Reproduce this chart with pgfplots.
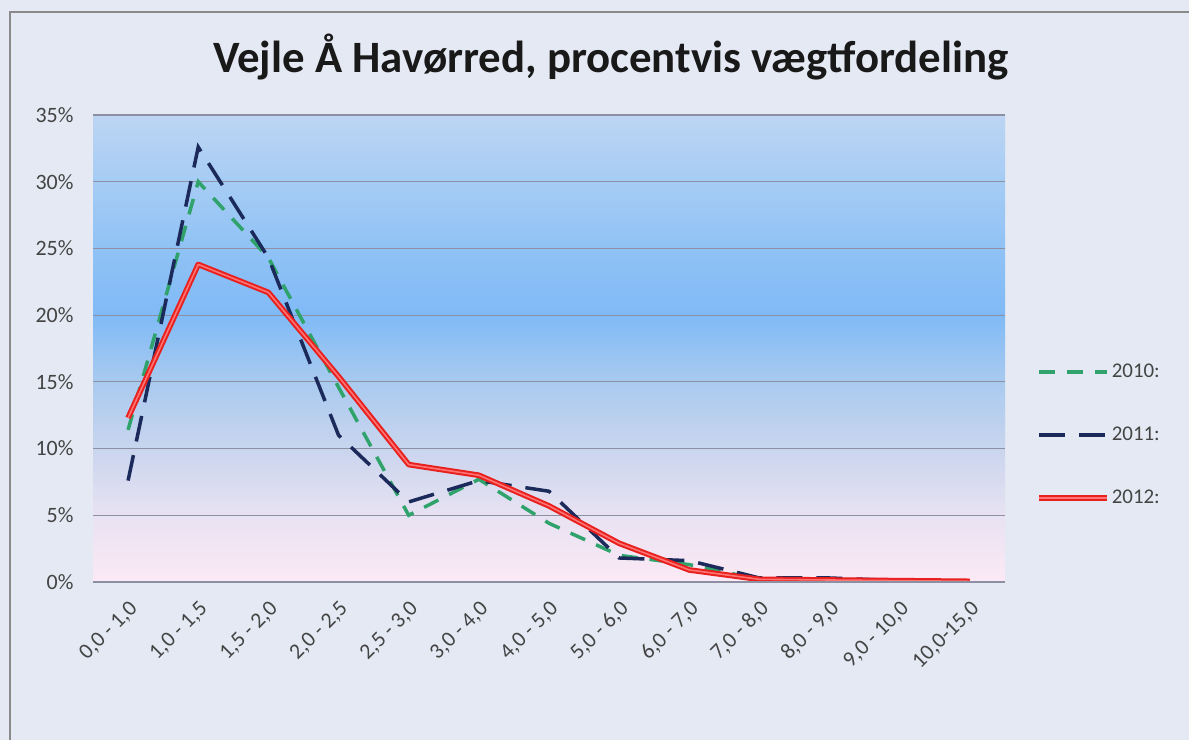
\documentclass[border=0pt]{standalone}
\usepackage{pgfplots}
\pgfplotsset{compat=1.18}
\usepackage{fontspec}
\setmainfont{Carlito}
\definecolor{bgc}{HTML}{E4E9F3}
\definecolor{framec}{HTML}{8A8A8A}
\definecolor{c35}{HTML}{BCD5F3}
\definecolor{c30}{HTML}{A6CCF4}
\definecolor{c25}{HTML}{90C2F5}
\definecolor{c20}{HTML}{80BAF6}
\definecolor{c15}{HTML}{A9CAEF}
\definecolor{c10}{HTML}{C9D5EE}
\definecolor{c5}{HTML}{E8E2F2}
\definecolor{c0}{HTML}{FCE9F5}
\definecolor{gridc}{HTML}{8C90A2}
\definecolor{textc}{HTML}{444444}
\definecolor{g2010}{HTML}{2FA36B}
\definecolor{n2011}{HTML}{1B2A5A}
\definecolor{r2012}{HTML}{E8201E}
\pgfdeclareverticalshading{plotbg}{100bp}{color(0bp)=(c0); color(25bp)=(c0); color(32.1bp)=(c5); color(39.3bp)=(c10); color(46.4bp)=(c15); color(53.6bp)=(c20); color(60.7bp)=(c25); color(67.9bp)=(c30); color(75bp)=(c35); color(100bp)=(c35)}
\pgfplotstableread{
x y2010 y2011 y2012
0 11.4 7.6 12.3
1 30.0 32.6 23.8
2 24.3 24.3 21.7
3 14.6 11.0 15.4
4 5.0 6.0 8.8
5 7.7 7.6 8.0
6 4.4 6.8 5.7
7 2.0 1.8 2.9
8 1.3 1.6 0.9
9 0.2 0.3 0.2
10 0.2 0.3 0.15
11 0.1 0.1 0.1
12 0.05 0.05 0.05
}\datatable
\begin{document}
\begin{tikzpicture}[x=1bp,y=1bp]
\useasboundingbox (0,0) rectangle (1189,740);
\fill[bgc] (0,0) rectangle (1189,740);
\draw[framec, line width=1.5bp] (10,-2) -- (10,728) -- (1195,728);
\node[font=\fontsize{45}{52}\selectfont\bfseries, text=black!90] at (611,683) {Vejle Å Havørred, procentvis vægtfordeling};
\begin{axis}[
  at={(93bp,158bp)}, anchor=south west,
  scale only axis, width=912bp, height=467bp,
  xmin=-0.5, xmax=12.5, ymin=0, ymax=35,
  axis background/.style={shading=plotbg},
  axis line style={draw=none},
  major tick length=0pt,
  ymajorgrids, grid style={gridc, line width=1.2bp},
  ytick={0,5,10,15,20,25,30,35},
  yticklabels={0\%,5\%,10\%,15\%,20\%,25\%,30\%,35\%},
  yticklabel style={font=\fontsize{22}{26}\selectfont, text=textc, xshift=-16bp},
  xtick={0,...,12},
  xticklabels={{0,0 - 1,0},{1,0 - 1,5},{1,5 - 2,0},{2,0 - 2,5},{2,5 - 3,0},{3,0 - 4,0},{4,0 - 5,0},{5,0 - 6,0},{6,0 - 7,0},{7,0 - 8,0},{8,0 - 9,0},{9,0 - 10,0},{10,0-15,0}},
  xticklabel style={font=\fontsize{22}{26}\selectfont, text=textc, rotate=45, anchor=east, yshift=-21bp, xshift=-9bp},
  legend style={at={(rel axis cs:1.034,0.315)}, anchor=west, draw=none, fill=none,
    font=\fontsize{21}{25}\selectfont, text=textc, row sep=44bp, inner sep=0pt},
  legend cell align=left,
  legend image code/.code={\draw[#1] (0bp,0bp) -- (68bp,0bp);},
]
\addplot[g2010, line width=3.5bp, dash pattern=on 16bp off 12bp] table[x=x,y=y2010]{\datatable};
\addlegendentry{2010:}
\addplot[n2011, line width=3.5bp, dash pattern=on 26bp off 14bp] table[x=x,y=y2011]{\datatable};
\addlegendentry{2011:}
\addplot[r2012, line width=2bp, double=red!55!white, double distance=1.6bp, line join=round] table[x=x,y=y2012]{\datatable};
\addlegendentry{2012:}
\draw[gridc, line width=1.5bp] (rel axis cs:0,0) -- (rel axis cs:1,0);
\end{axis}
\end{tikzpicture}
\end{document}
